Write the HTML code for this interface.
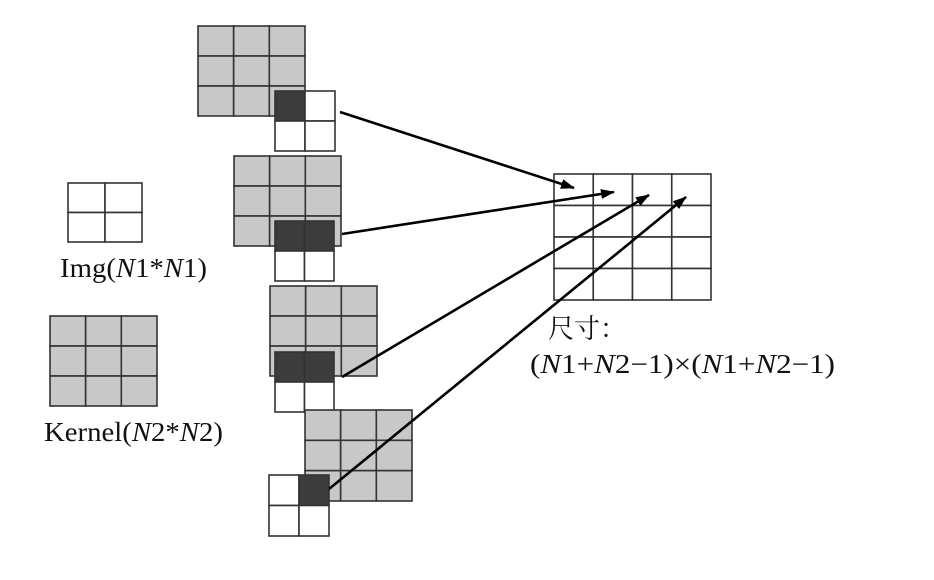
<!DOCTYPE html>
<html><head><meta charset="utf-8"><style>
html,body{margin:0;padding:0;background:#fff;}
svg{display:block;}
text{font-family:"Liberation Serif","Noto Serif CJK SC",serif;font-size:27px;fill:#111;}
</style></head><body>
<svg id="s" width="934" height="580" viewBox="0 0 934 580" xmlns="http://www.w3.org/2000/svg">
<defs><marker id="ah" markerWidth="14" markerHeight="10" refX="13" refY="5" orient="auto" markerUnits="userSpaceOnUse"><path d="M0,0 L14,5 L0,10 z" fill="#000"/></marker></defs>
<g id="g"></g>
<text x="60" y="277" textLength="147" lengthAdjust="spacingAndGlyphs">Img(<tspan font-style="italic">N</tspan>1*<tspan font-style="italic">N</tspan>1)</text>
<text x="44" y="441" textLength="179" lengthAdjust="spacingAndGlyphs">Kernel(<tspan font-style="italic">N</tspan>2*<tspan font-style="italic">N</tspan>2)</text>
<text x="548" y="338" textLength="78" lengthAdjust="spacingAndGlyphs">尺寸：</text>
<text x="530" y="373" textLength="305" lengthAdjust="spacingAndGlyphs">(<tspan font-style="italic">N</tspan>1+<tspan font-style="italic">N</tspan>2−1)×(<tspan font-style="italic">N</tspan>1+<tspan font-style="italic">N</tspan>2−1)</text>
</svg>
<script>
const NS='http://www.w3.org/2000/svg';
const g=document.getElementById('g');
function grid(name,x,y,w,h,rows,cols,fill,dark){
  const grp=document.createElementNS(NS,'g');
  
  
  const cw=w/cols,ch=h/rows;
  for(let r=0;r<rows;r++)for(let c=0;c<cols;c++){
    const re=document.createElementNS(NS,'rect');
    
    
    re.setAttribute('x',x+c*cw);re.setAttribute('y',y+r*ch);
    re.setAttribute('width',cw);re.setAttribute('height',ch);
    const d=dark&&dark.some(p=>p[0]===r&&p[1]===c);
    re.setAttribute('fill',d?'#3c3c3c':fill);
    re.setAttribute('stroke','#333');re.setAttribute('stroke-width','1.6');
    grp.appendChild(re);
  }
  g.appendChild(grp);
}
function arrow(name,x1,y1,x2,y2){
  const l=document.createElementNS(NS,'line');
  
  
  l.setAttribute('x1',x1);l.setAttribute('y1',y1);l.setAttribute('x2',x2);l.setAttribute('y2',y2);
  l.setAttribute('stroke','#000');l.setAttribute('stroke-width','2.6');
  l.setAttribute('marker-end','url(#ah)');
  g.appendChild(l);
}
grid('img-legend',68,183,74,59,2,2,'#fff');
grid('kernel-legend',50,316,107,90,3,3,'#c8c8c8');
grid('kernel-step1',198,26,107,90,3,3,'#c8c8c8');
grid('img-step1',275,91,60,60,2,2,'#fff',[[0,0]]);
grid('kernel-step2',234,156,107,90,3,3,'#c8c8c8');
grid('img-step2',275,221,59,60,2,2,'#fff',[[0,0],[0,1]]);
grid('kernel-step3',270,286,107,90,3,3,'#c8c8c8');
grid('img-step3',275,352,59,60,2,2,'#fff',[[0,0],[0,1]]);
grid('kernel-step4',305,410,107,91,3,3,'#c8c8c8');
grid('img-step4',269,475,60,61,2,2,'#fff',[[0,1]]);
grid('output-grid',554,174,157,126,4,4,'#fff');
arrow('arrow-1',340,112,574,188);
arrow('arrow-2',342,234,614,192);
arrow('arrow-3',342,377,649,195);
arrow('arrow-4',329,489,686,197);
</script>
</body></html>
